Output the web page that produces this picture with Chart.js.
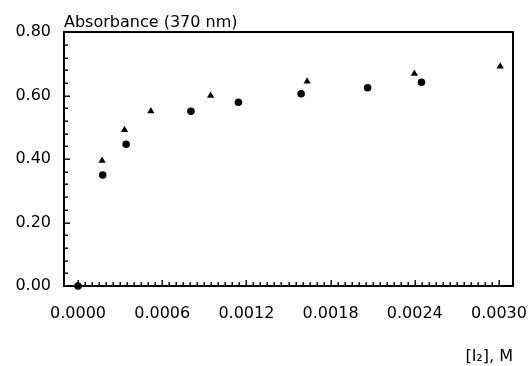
<!DOCTYPE html>
<html>
<head>
<meta charset="utf-8">
<script src="https://cdn.jsdelivr.net/npm/chart.js@4.4.1/dist/chart.umd.min.js"></script>
<style>
  html, body { margin: 0; padding: 0; background: #fff; }
  #wrap { width: 532px; height: 366px; }
</style>
</head>
<body>
<div id="wrap"><canvas id="absChart"></canvas></div>
<script>
// [I2] (M) vs absorbance at 370 nm, two runs
const concTriangle = [0, 0.000171, 0.000331, 0.000519, 0.000945, 0.001633, 0.002397, 0.003009];
const absTriangle  = [0, 0.395, 0.492, 0.551, 0.600, 0.645, 0.669, 0.692];
const concCircle   = [0, 0.000176, 0.000343, 0.000805, 0.001143, 0.001590, 0.002064, 0.002448];
const absCircle    = [0, 0.350, 0.447, 0.551, 0.579, 0.606, 0.625, 0.642];

const xTickLabels = ['0.0000', '0.0006', '0.0012', '0.0018', '0.0024', '0.0030'];
const yTickLabels = ['0.00', '0.20', '0.40', '0.60', '0.80'];
const xMinorPerMajor = 12;
const yMinorPerMajor = 5;

Chart.defaults.font.family = '"DejaVu Sans", "Liberation Sans", Arial, sans-serif';
Chart.defaults.font.size = 16;
Chart.defaults.color = '#000';

function buildTicks(labels, perMajor) {
  const majors = labels.map(Number);
  const step = (majors[1] - majors[0]) / perMajor;
  const ticks = [];
  const n = (majors.length - 1) * perMajor;
  for (let i = 0; i <= n; i++) {
    ticks.push({ value: majors[0] + i * step, major: i % perMajor === 0 });
  }
  return ticks;
}

// box round the plot, tick marks pointing inward
const axisFrame = {
  id: 'axisFrame',
  afterDraw(chart) {
    const ctx = chart.ctx;
    const a = chart.chartArea;
    const x = chart.scales.x, y = chart.scales.y;
    const L = Math.round(a.left), R = Math.round(a.right);
    const T = Math.round(a.top), B = Math.round(a.bottom);
    ctx.save();
    ctx.fillStyle = '#000';
    ctx.fillRect(L - 1, T - 1, R - L + 2, 2);
    ctx.fillRect(L - 1, B - 1, R - L + 2, 2);
    ctx.fillRect(L - 1, T - 1, 2, B - T + 2);
    ctx.fillRect(R - 1, T - 1, 2, B - T + 2);
    x.ticks.forEach((t, i) => {
      const px = Math.round(x.getPixelForValue(t.value));
      const len = i % xMinorPerMajor === 0 ? 6 : 4;
      ctx.fillRect(px - 0.5, B - len, 1.4, len);
    });
    y.ticks.forEach((t, i) => {
      const py = Math.round(y.getPixelForValue(t.value));
      const len = i % yMinorPerMajor === 0 ? 6 : 4;
      ctx.fillRect(L, py - 0.5, len, 1.4);
    });
    ctx.restore();
  }
};

new Chart(document.getElementById('absChart'), {
  type: 'scatter',
  data: {
    datasets: [{
      data: concTriangle.map((c, i) => ({ x: c, y: absTriangle[i] })),
      pointStyle: 'triangle',
      radius: 4.2,
      backgroundColor: '#000',
      borderWidth: 0,
      clip: false
    }, {
      data: concCircle.map((c, i) => ({ x: c, y: absCircle[i] })),
      pointStyle: 'circle',
      radius: 3.8,
      backgroundColor: '#000',
      borderWidth: 0,
      clip: false
    }]
  },
  options: {
    responsive: true,
    maintainAspectRatio: false,
    animation: false,
    layout: { padding: { left: 0, right: 19, top: 0, bottom: 0 } },
    plugins: {
      legend: { display: false },
      tooltip: { enabled: false },
      title: {
        display: true,
        text: 'Absorbance (370 nm)',
        align: 'start',
        fullSize: false,
        font: { size: 16, weight: 'normal' },
        padding: { top: 13, bottom: 0 }
      }
    },
    scales: {
      x: {
        type: 'linear',
        min: -0.0001,
        max: 0.0031,
        afterBuildTicks: s => { s.ticks = buildTicks(xTickLabels, xMinorPerMajor); },
        afterFit: s => { s.height = 80; s.paddingLeft = 0; s.paddingRight = 0; },
        grid: { display: false, drawTicks: false },
        border: { display: false },
        ticks: {
          autoSkip: false,
          maxRotation: 0,
          padding: 18,
          callback: (v, i) => (i % xMinorPerMajor === 0 ? xTickLabels[i / xMinorPerMajor] : '')
        },
        title: {
          display: true,
          text: '[I\u2082], M',
          align: 'end',
          font: { size: 16 },
          padding: 0
        }
      },
      y: {
        min: 0,
        max: 0.8,
        afterBuildTicks: s => { s.ticks = buildTicks(yTickLabels, yMinorPerMajor); },
        afterFit: s => { s.width = 64; s.paddingTop = 0; s.paddingBottom = 0; },
        grid: { display: false, drawTicks: false },
        border: { display: false },
        ticks: {
          autoSkip: false,
          padding: 13,
          callback: (v, i) => (i % yMinorPerMajor === 0 ? yTickLabels[i / yMinorPerMajor] : '')
        }
      }
    }
  },
  plugins: [axisFrame]
});
</script>
</body>
</html>
